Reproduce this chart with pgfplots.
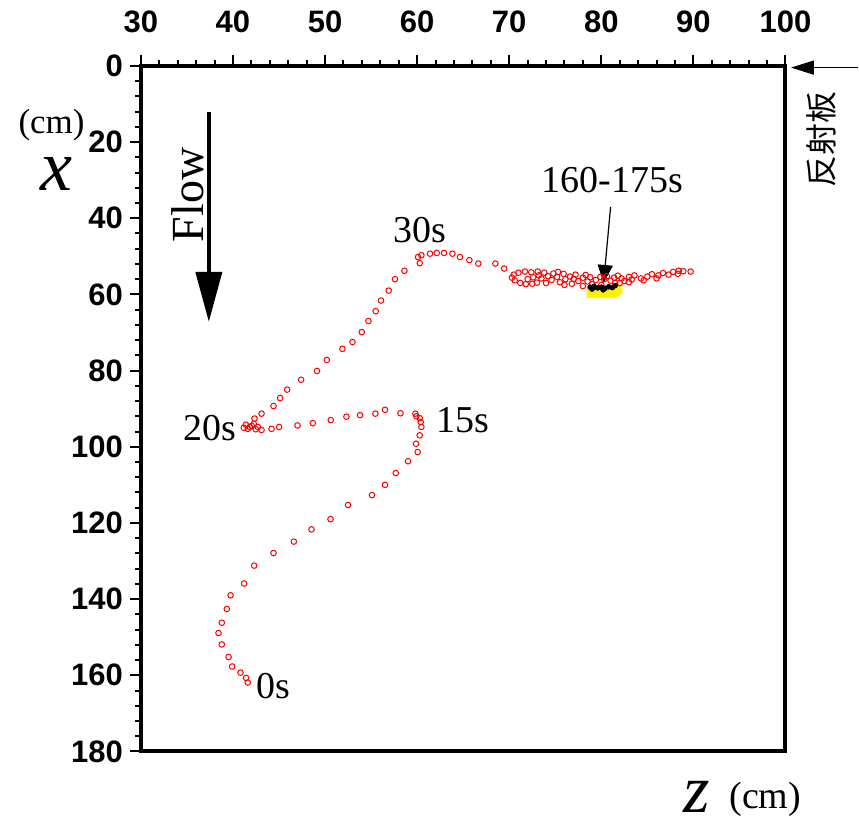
\documentclass[border=0pt]{standalone}
\usepackage{fontspec}
\setmainfont{Liberation Serif}
\newfontfamily\ticksf{Liberation Sans}
\newfontfamily\cjk{Noto Sans CJK SC}
\usepackage{pgfplots}
\pgfplotsset{compat=1.18}
\usetikzlibrary{arrows.meta}

% trajectory, z (cm) vs x (cm), from 0s onwards
\pgfplotstableread{
z x
41.61 161.9
41.43 160.7
40.82 159.3
39.91 157.7
39.52 155.2
38.79 151.9
38.43 148.9
38.79 146.2
39.33 142.6
39.74 139.0
41.21 135.9
42.30 131.2
44.40 127.9
46.61 124.9
48.53 121.7
50.59 119.0
52.50 115.3
55.10 112.7
56.51 110.0
57.68 106.9
59.01 103.8
60.06 101.4
59.88 99.2
60.28 97.0
60.46 94.8
60.39 93.5
60.28 92.5
59.92 92.0
59.81 91.3
58.19 91.2
56.51 90.3
55.47 91.3
53.80 91.7
52.32 92.1
50.62 93.0
48.67 93.8
47.01 94.4
45.01 94.8
44.19 95.3
43.10 95.6
42.70 94.8
42.26 94.0
41.83 94.8
41.40 94.2
41.18 95.0
41.61 95.3
42.05 94.5
42.48 95.4
42.34 92.6
43.10 91.3
44.40 89.3
45.12 87.2
45.88 85.0
47.40 82.4
49.13 80.1
50.19 77.2
51.89 74.3
52.98 72.5
53.99 69.9
54.71 67.0
55.50 64.4
56.08 61.6
56.92 59.0
57.60 56.0
58.62 53.8
60.28 51.8
60.10 50.2
60.46 49.7
61.40 49.3
62.13 49.1
62.92 49.1
63.83 49.3
64.65 50.2
65.67 51.0
66.65 51.9
68.50 51.9
69.45 53.2
70.5 54.8
70.3 55.6
70.6 56.3
71.2 57.0
71.8 57.3
72.5 57.2
71.0 54.3
71.7 54.0
72.4 54.2
73.1 54.0
73.8 54.3
73.2 55.0
72.6 55.5
73.5 55.8
74.2 55.2
74.8 54.5
75.3 54.1
75.9 54.6
75.2 55.4
74.6 56.2
75.5 56.8
76.1 56.0
76.6 55.3
77.2 54.8
77.0 55.9
76.8 57.2
77.5 56.5
78.0 55.6
78.3 54.9
78.8 55.5
78.5 56.6
79.0 57.3
79.4 56.2
79.9 55.4
80.3 56.0
80.6 55.2
81.0 56.4
81.4 55.6
81.8 55.1
82.2 55.8
82.5 56.5
82.0 57.0
83.0 55.4
83.3 56.1
83.6 55.0
83.0 56.8
84.3 55.8
85.0 55.3
85.5 54.7
86.2 55.0
86.7 54.4
87.3 54.8
87.8 54.1
88.4 53.8
88.9 53.9
89.7 54.0
88.3 54.6
86.0 55.8
84.6 56.3
73.0 56.9
74.0 57.0
72.0 56.0
76.0 57.5
78.0 57.8
80.0 57.5
81.5 57.0
}\traj

% final positions 160-175s
\pgfplotstableread{
z x
78.8 58.1
79.2 57.9
79.6 58.3
80.0 58.1
80.4 58.4
80.8 58.0
81.2 58.2
81.5 57.7
79.0 58.6
80.2 58.8
}\final

\begin{document}
\begin{tikzpicture}
\begin{axis}[
  scale only axis, width=322.5pt, height=343pt,
  xmin=30, xmax=100, ymin=0, ymax=180, y dir=reverse,
  xtick={30,40,...,100}, ytick={0,20,...,180},
  minor x tick num=4, minor y tick num=4,
  tick align=outside, xtick pos=right, xticklabel pos=right, ytick pos=left,
  major tick length=5.5pt, minor tick length=3pt,
  axis line style={line width=2pt},
  every tick/.style={black, line width=1pt},
  /pgf/number format/assume math mode=true,
  ticklabel style={font=\ticksf\bfseries\fontsize{15.5}{16}\selectfont},
  xticklabel style={yshift=7.5pt},
  clip=false,
]
\path (axis cs:14.7,-17.3) rectangle (axis cs:107.93,199.2);
\addplot[fill=yellow, draw=none] coordinates {
  (78.4,57.8) (82.3,57.4) (82.3,59.6) (81.6,61.0) (78.4,61.0)} --cycle;
\addplot[only marks, mark=o, mark size=1.4pt, red,
  mark options={line width=0.5pt}] table[x=z, y=x] {\traj};
\addplot[only marks, mark=*, mark size=1.2pt, black] table[x=z, y=x] {\final};

\draw[line width=0.6pt, -{Triangle[length=9pt,width=7.5pt]}]
  (axis cs:81.01,37.0) -- (axis cs:80.25,57.0);
\node[font=\fontsize{19}{20}\selectfont] at (axis cs:81.2,29.9) {160-175s};
\node[font=\fontsize{19}{20}\selectfont] at (axis cs:60.28,43.0) {30s};
\node[font=\fontsize{19}{20}\selectfont] at (axis cs:37.49,95.0) {20s};
\node[font=\fontsize{19}{20}\selectfont] at (axis cs:64.95,92.9) {15s};
\node[font=\fontsize{19}{20}\selectfont] at (axis cs:44.43,162.7) {0s};

\draw[line width=2pt, -{Triangle[length=25pt,width=13pt]}]
  (axis cs:37.38,12.1) -- (axis cs:37.38,67.2);
\node[rotate=90, font=\fontsize{23}{24}\selectfont] at (axis cs:35.1,33.9) {Flow};

\draw[line width=0.8pt, -{Triangle[length=11.5pt,width=7pt]}]
  (axis cs:107.9,0.45) -- (axis cs:100.6,0.45);
\node[rotate=90, font=\cjk\fontsize{16}{17}\selectfont] at (axis cs:103.9,19.4) {反射板};

\node[font=\fontsize{17.5}{18}\selectfont] at (axis cs:20.3,15.5) {(cm)};
\node[font=\itshape\fontsize{36}{36}\selectfont] at (axis cs:20.8,28.3) {x};
\node[font=\itshape\fontsize{34}{34}\selectfont] at (axis cs:90.34,192.0) {z};
\node[font=\fontsize{19}{20}\selectfont] at (axis cs:97.8,192.7) {(cm)};
\end{axis}
\end{tikzpicture}
\end{document}
